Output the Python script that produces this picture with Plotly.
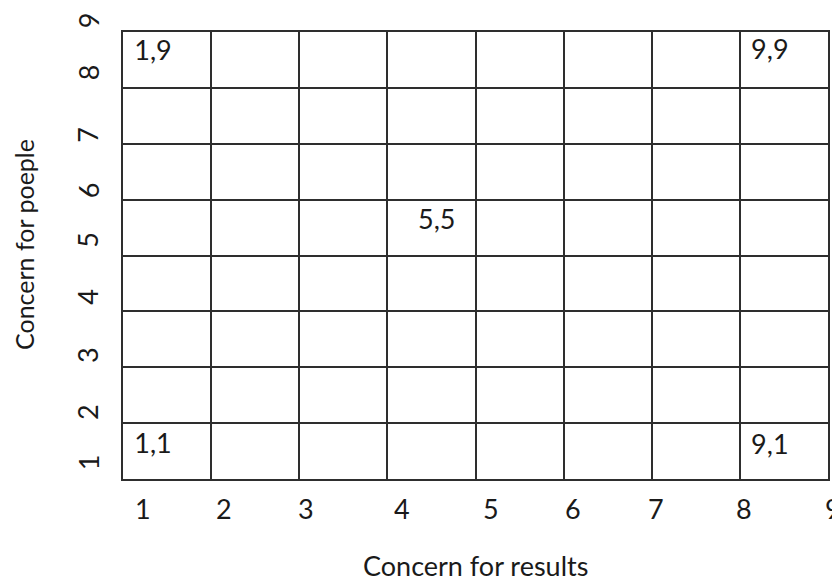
import plotly.graph_objects as go

# Grid lines (both axes run from 1 to 9)
grid_vals = [1, 2, 3, 4, 5, 6, 7, 8, 9]
AX_MIN, AX_MAX = 1, 9

# Tick labels and where they sit along each axis
x_tick_text = ["1", "2", "3", "4", "5", "6", "7", "8", "9"]
x_tick_pos = [1.23, 2.15, 3.08, 4.17, 5.18, 6.11, 7.05, 8.05, 9.06]
y_tick_text = ["1", "2", "3", "4", "5", "6", "7", "8", "9"]
y_tick_pos = [1.30, 2.20, 3.22, 4.26, 5.28, 6.17, 7.16, 8.28, 9.21]

# Cell labels
cell_text = ["1,9", "9,9", "5,5", "1,1", "9,1"]
cell_x = [1.34, 8.34, 4.56, 1.34, 8.34]
cell_y = [8.62, 8.64, 5.60, 1.59, 1.57]

x_title = "Concern for results"
y_title = "Concern for poeple"

FONT = "Lato"
LINE = "#2e2e2e"
TXT = "#1a1a1a"
SIZE = 27


def to_paper(v):
    return (v - AX_MIN) / (AX_MAX - AX_MIN)


fig = go.Figure()
fig.add_trace(go.Scatter(
    x=cell_x, y=cell_y, mode="text", text=cell_text,
    textfont=dict(family=FONT, size=SIZE, color=TXT),
    hoverinfo="skip", showlegend=False, cliponaxis=False,
))

annotations = []
for t, p in zip(x_tick_text, x_tick_pos):
    annotations.append(dict(x=to_paper(p), y=0, xref="paper", yref="paper", text=t,
                            showarrow=False, yshift=-29, yanchor="middle", xanchor="center",
                            font=dict(family=FONT, size=SIZE, color=TXT)))
for t, p in zip(y_tick_text, y_tick_pos):
    annotations.append(dict(x=0, y=to_paper(p), xref="paper", yref="paper", text=t,
                            showarrow=False, xshift=-35, xanchor="center", yanchor="middle",
                            textangle=-90,
                            font=dict(family=FONT, size=SIZE, color=TXT)))
annotations.append(dict(x=0.5, y=0, xref="paper", yref="paper", text=x_title,
                        showarrow=False, yshift=-86, yanchor="middle", xanchor="center",
                        font=dict(family=FONT, size=SIZE, color=TXT)))
annotations.append(dict(x=0, y=0.5235, xref="paper", yref="paper", text=y_title,
                        showarrow=False, xshift=-99, xanchor="center", yanchor="middle",
                        textangle=-90,
                        font=dict(family=FONT, size=25, color=TXT)))

axis_common = dict(
    range=[AX_MIN, AX_MAX], tickvals=grid_vals, showticklabels=False, ticks="",
    showgrid=True, gridcolor=LINE, gridwidth=1.6, zeroline=False,
    showline=True, linecolor=LINE, linewidth=1.6, mirror=True, fixedrange=True,
)

fig.update_layout(
    width=840, height=585, autosize=False,
    margin=dict(l=115, r=20, t=24, b=114),
    paper_bgcolor="white", plot_bgcolor="white",
    xaxis=axis_common, yaxis=axis_common,
    annotations=annotations,
    showlegend=False,
)

fig.write_html("out.html")
